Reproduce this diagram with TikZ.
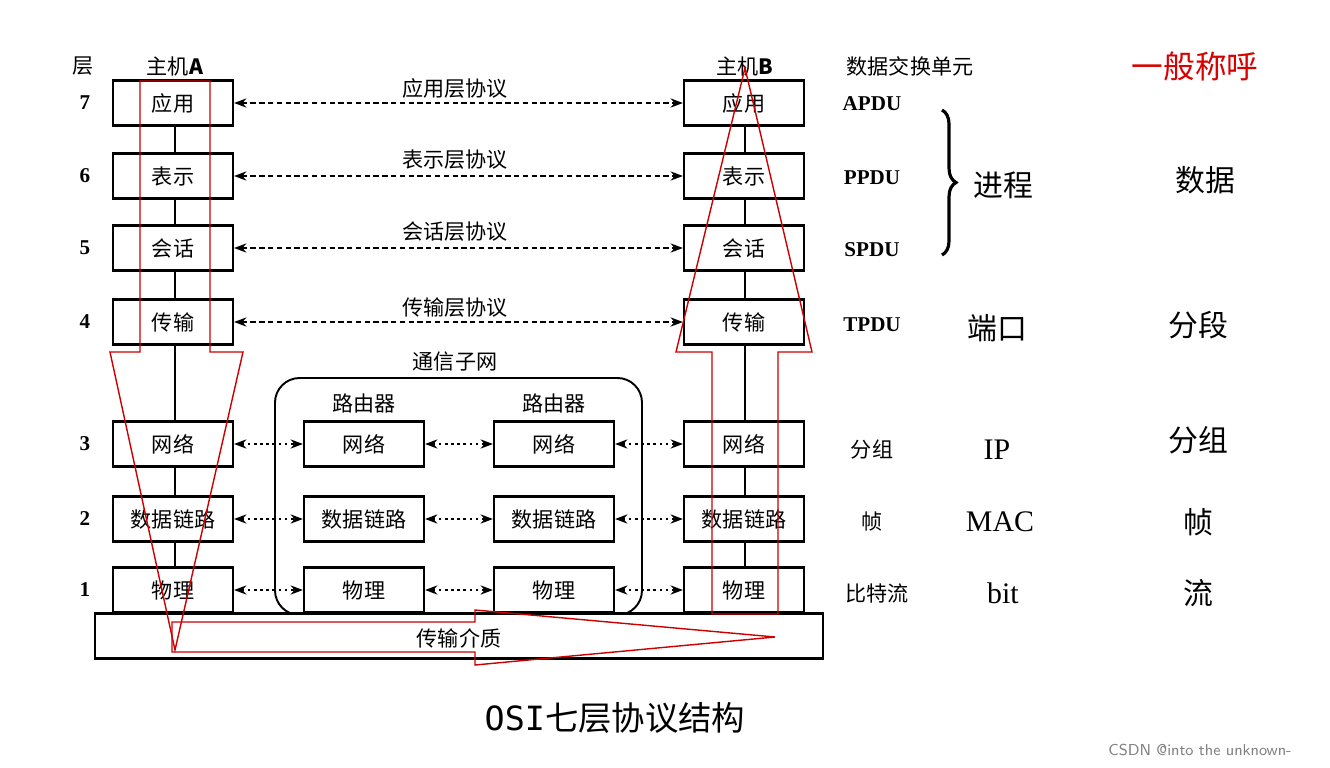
\documentclass[tikz,border=0pt]{standalone}
\usepackage{fontspec}
\setmainfont{Liberation Serif}
\newfontfamily\cjk{Noto Sans CJK SC}
\usetikzlibrary{arrows.meta,decorations.pathreplacing}
\begin{document}
\begin{tikzpicture}[x=0.02cm,y=-0.02cm,
  lay/.style={draw,line width=1.3pt,fill=white,minimum width=2.4cm,minimum height=0.9cm,inner sep=0pt,font=\cjk\fontsize{12}{12}\selectfont},
  lbl/.style={font=\cjk\fontsize{12}{12}\selectfont},
  lat/.style={font=\bfseries\fontsize{12}{12}\selectfont},
  big/.style={font=\cjk\fontsize{17}{17}\selectfont},
  proto/.style={line width=1pt,dash pattern=on 3pt off 2pt,{Stealth[length=7pt]}-{Stealth[length=7pt]}},
  sub/.style={line width=1pt,dash pattern=on 1.5pt off 2pt,{Stealth[length=7pt]}-{Stealth[length=7pt]}},
  redarr/.style={draw=red!80!black,line width=0.8pt}]
\useasboundingbox (0,0) rectangle (1330,768);
\fill[white] (0,0) rectangle (1330,768);
% subnet
\draw[line width=1.1pt,rounded corners=14pt] (275,378) rectangle (642,615);
\node[lbl] (subn) at (455,362) {通信子网};
\node[lbl] (r1l) at (364,403) {路由器};
\node[lbl] (r2l) at (554,403) {路由器};
% vertical lines
\draw[line width=1.3pt] (175,126) -- (175,568);
\draw[line width=1.3pt] (745,126) -- (745,568);
% host A
\foreach \n/\y/\t in {a7/103/应用,a6/176/表示,a5/248/会话,a4/322/传输,a3/444/网络,a2/519/数据链路,a1/590/物理}
  \node[lay] (\n) at (173,\y) {\t};
\foreach \n/\y/\t in {b7/103/应用,b6/176/表示,b5/248/会话,b4/322/传输,b3/444/网络,b2/519/数据链路,b1/590/物理}
  \node[lay] (\n) at (744,\y) {\t};
\foreach \n/\y/\t in {p3/444/网络,p2/519/数据链路,p1/590/物理}
  \node[lay] (\n) at (364,\y) {\t};
\foreach \n/\y/\t in {q3/444/网络,q2/519/数据链路,q1/590/物理}
  \node[lay] (\n) at (554,\y) {\t};
\node[draw,line width=1.3pt,fill=white,minimum width=14.56cm,minimum height=0.9cm,inner sep=0pt] (med) at (459,636) {};
\node[lbl] (medt) at (459,638) {传输介质};
% protocol arrows
\foreach \i/\t in {7/应用层协议,6/表示层协议,5/会话层协议,4/传输层协议}{
  \draw[proto] (a\i.east) -- (b\i.west);
}
\node[lbl] (t7) at (455,88) {应用层协议};
\node[lbl] (t6) at (455,160) {表示层协议};
\node[lbl] (t5) at (455,232) {会话层协议};
\node[lbl] (t4) at (455,308) {传输层协议};
\foreach \i in {1,2,3}{
  \draw[sub] (a\i.east) -- (p\i.west);
  \draw[sub] (p\i.east) -- (q\i.west);
  \draw[sub] (q\i.east) -- (b\i.west);
}
% headings
\node[lbl] (hc) at (83,66) {层};
\node[lbl] (ha) at (175,66) {主机\textbf{A}};
\node[lbl] (hb) at (745,66) {主机\textbf{B}};
\node[lbl] (hd) at (910,66) {数据交换单元};
\node[font=\cjk\fontsize{18}{18}\selectfont,text=red!85!black] (hg) at (1195,66) {一般称呼};
\foreach \y/\k in {103/7,176/6,248/5,322/4,444/3,519/2,590/1}
  \node[lat] at (85,\y) {\k};
\node[lat] (u7) at (872,104) {APDU};
\node[lat] (u6) at (872,178) {PPDU};
\node[lat] (u5) at (872,250) {SPDU};
\node[lat] (u4) at (872,325) {TPDU};
\node[lbl] (u3) at (872,450) {分组};
\node[lbl] (u2) at (872,522) {帧};
\node[lbl] (u1) at (877,593) {比特流};
\draw[line width=1.8pt,decorate,decoration={brace,amplitude=8pt}] (942,110) -- (942,255);
\node[big] (jc) at (1003,185) {进程};
\node[big] (dk) at (997,328) {端口};
\node[font=\fontsize{17}{17}\selectfont] (ip) at (997,450) {IP};
\node[font=\fontsize{17}{17}\selectfont] (mac) at (1000,522) {MAC};
\node[font=\fontsize{17}{17}\selectfont] (bit) at (1003,593) {bit};
\node[big] (g1) at (1205,180) {数据};
\node[big] (g2) at (1198,325) {分段};
\node[big] (g3) at (1198,440) {分组};
\node[big] (g4) at (1198,522) {帧};
\node[big] (g5) at (1198,593) {流};
% red arrows
\draw[redarr] (140,81)--(210,81)--(210,352)--(243,352)--(175,650)--(110,352)--(140,352)--cycle;
\draw[redarr] (172,622)--(475,622)--(475,610)--(775,637)--(475,665)--(475,652)--(172,652)--cycle;
\draw[redarr] (712,614)--(712,352)--(676,352)--(745,68)--(812,352)--(778,352)--(778,614)--cycle;
\node[font=\cjk\fontsize{19}{19}\selectfont] (title) at (615,718) {\fontspec{DejaVu Sans Mono}OSI\cjk 七层协议结构};
\node[font=\sffamily\fontsize{9}{9}\selectfont,text=gray] (wm) at (1200,750) {CSDN @into the unknown-};
\end{tikzpicture}
\end{document}
